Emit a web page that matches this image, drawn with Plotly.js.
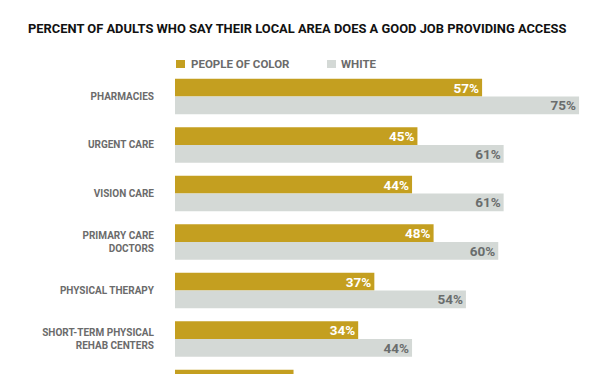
<!DOCTYPE html>
<html>
<head>
<meta charset="utf-8">
<script src="https://cdn.plot.ly/plotly-3.0.1.min.js"></script>
<style>html,body{margin:0;padding:0;background:#fff;}#chart{width:612px;height:374px;}</style>
</head>
<body>
<div id="chart"></div>
<script>
const categories = [
  "PHARMACIES",
  "URGENT CARE",
  "VISION CARE",
  "PRIMARY CARE<br>DOCTORS",
  "PHYSICAL THERAPY",
  "SHORT-TERM PHYSICAL<br>REHAB CENTERS",
  "OTHER SERVICES"
];
const peopleOfColor = [57, 45, 44, 48, 37, 34, 22];
const white = [75, 61, 61, 60, 54, 44, 30];
const seriesNames = ["PEOPLE OF COLOR", "WHITE"];

const GOLD = "#C49F20";
const GREY = "#D4D9D6";
const LABEL = "#6B6B6B";

const traces = [
  {
    type: "bar", orientation: "h", name: seriesNames[0],
    y: categories, x: peopleOfColor,
    marker: {color: GOLD},
    texttemplate: "%{x}%", textposition: "inside", insidetextanchor: "end",
    textangle: 0, constraintext: "none",
    textfont: {family: "Roboto", size: 13.5, color: "#ffffff", weight: 700},
    hoverinfo: "none"
  },
  {
    type: "bar", orientation: "h", name: seriesNames[1],
    y: categories, x: white,
    marker: {color: GREY},
    texttemplate: "%{x}%", textposition: "inside", insidetextanchor: "end",
    textangle: 0, constraintext: "none",
    textfont: {family: "Roboto", size: 13.5, color: "#6A6D6D", weight: 700},
    hoverinfo: "none"
  }
];

const layout = {
  width: 612, height: 374,
  paper_bgcolor: "#ffffff", plot_bgcolor: "#ffffff",
  margin: {l: 175, r: 20, t: 72, b: 0, pad: 0},
  showlegend: false,
  barmode: "group", bargap: 0.267, bargroupgap: 0,
  title: {
    text: "PERCENT OF ADULTS WHO SAY THEIR LOCAL AREA DOES A GOOD JOB PROVIDING ACCESS",
    x: 28/612, xanchor: "left", xref: "container",
    y: 1 - 28/374, yanchor: "middle", yref: "container",
    font: {family: "Roboto", size: 12.9, color: "#111111", weight: 700}
  },
  xaxis: {range: [0, 77.4], visible: false, fixedrange: true},
  yaxis: {
    type: "category", autorange: false, range: [5.722, -0.505],
    showgrid: false, zeroline: false, showline: false, ticks: "",
    ticklabelstandoff: 20,
    tickfont: {family: "Roboto", size: 10, color: LABEL, weight: 700},
    fixedrange: true
  },
  shapes: [
    {type: "rect", xref: "paper", xsizemode: "pixel", xanchor: 0, x0: 1, x1: 10,
     yref: "paper", ysizemode: "pixel", yanchor: 1, y0: 4, y1: 12,
     fillcolor: GOLD, line: {width: 0}},
    {type: "rect", xref: "paper", xsizemode: "pixel", xanchor: 0, x0: 152, x1: 161,
     yref: "paper", ysizemode: "pixel", yanchor: 1, y0: 4, y1: 12,
     fillcolor: GREY, line: {width: 0}}
  ],
  annotations: [
    {xref: "paper", yref: "paper", x: 0, y: 1, xanchor: "left", yanchor: "middle",
     xshift: 14, yshift: 8, showarrow: false, text: seriesNames[0],
     font: {family: "Roboto", size: 11.5, color: LABEL, weight: 700}},
    {xref: "paper", yref: "paper", x: 0, y: 1, xanchor: "left", yanchor: "middle",
     xshift: 164, yshift: 8, showarrow: false, text: seriesNames[1],
     font: {family: "Roboto", size: 11.5, color: LABEL, weight: 700}}
  ]
};

Plotly.newPlot("chart", traces, layout, {displayModeBar: false, staticPlot: true});
</script>
</body>
</html>
